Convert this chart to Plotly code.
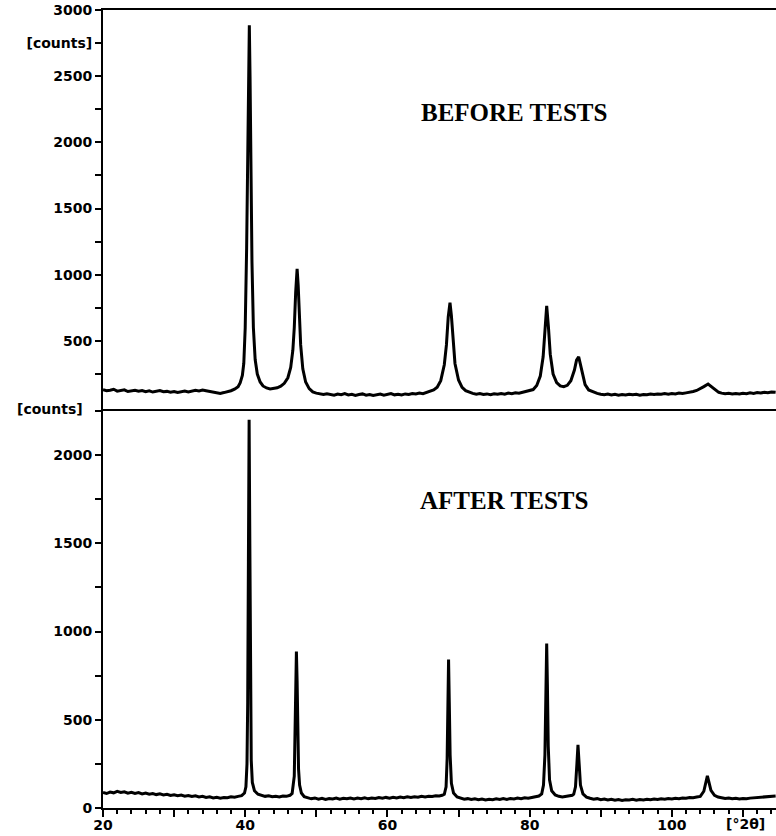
import plotly.graph_objects as go
from plotly.subplots import make_subplots

# ---------------- data ----------------
two_theta_before = [
    20, 20.5, 21, 21.5, 22, 22.5, 23, 23.5, 24, 24.5, 25, 25.5, 26, 26.5, 27, 27.5,
    28, 28.5, 29, 29.5, 30, 30.5, 31, 31.5, 32, 32.5, 33, 33.5, 34, 34.5, 35, 35.5,
    36, 36.5, 37, 37.5, 38, 38.5, 39, 39.3, 39.6, 39.8, 40.0, 40.2, 40.35, 40.5,
    40.58, 40.68, 40.8, 40.95, 41.15, 41.4, 41.7, 42.1, 42.5, 43, 43.5, 44, 44.5,
    45, 45.5, 46, 46.4, 46.7, 46.9, 47.1, 47.3, 47.45, 47.6, 47.8, 48.1, 48.5, 49,
    49.5, 50, 50.5, 51, 51.5, 52, 52.5, 53, 53.5, 54, 54.5, 55, 55.5, 56, 56.5, 57,
    57.5, 58, 58.5, 59, 59.5, 60, 60.5, 61, 61.5, 62, 62.5, 63, 63.5, 64, 64.5, 65,
    65.5, 66, 66.5, 67, 67.5, 68, 68.3, 68.55, 68.8, 69.0, 69.25, 69.5, 70, 70.5,
    71, 71.5, 72, 72.5, 73, 73.5, 74, 74.5, 75, 75.5, 76, 76.5, 77, 77.5, 78, 78.5,
    79, 79.5, 80, 80.5, 81, 81.5, 81.9, 82.15, 82.4, 82.65, 82.9, 83.3, 83.8, 84.3,
    84.8, 85.3, 85.8, 86.3, 86.6, 86.9, 87.1, 87.4, 87.8, 88.3, 89, 89.5, 90, 90.5,
    91, 91.5, 92, 92.5, 93, 93.5, 94, 94.5, 95, 95.5, 96, 96.5, 97, 97.5, 98, 98.5,
    99, 99.5, 100, 100.5, 101, 101.5, 102, 102.5, 103, 103.5, 104, 104.5, 105.1,
    105.6, 106.1, 106.6, 107, 107.5, 108, 108.5, 109, 109.5, 110, 110.5, 111, 111.5,
    112, 112.5, 113, 113.5, 114, 114.6,
]
counts_before = [
    132, 124, 128, 135, 121, 127, 131, 118, 124, 128, 120, 126, 117, 123, 114, 120,
    125, 116, 119, 113, 118, 111, 116, 121, 114, 122, 127, 123, 129, 124, 118, 112,
    108, 104, 110, 116, 124, 136, 155, 185, 240, 330, 600, 1200, 1900, 2700,
    2885, 2500, 1800, 1100, 600, 360, 250, 190, 160, 145, 138, 140, 146,
    158, 180, 222, 300, 430, 600, 870, 1045, 920, 700, 470, 290, 190, 140,
    115, 106, 100, 95, 101, 97, 91, 99, 94, 102, 92, 97, 89, 95, 100, 91,
    96, 88, 94, 99, 91, 95, 103, 93, 98, 92, 100, 96, 103, 99, 106, 102,
    110, 118, 130, 150, 200, 320, 470, 680, 790, 690, 480, 330, 205, 150,
    125, 112, 104, 98, 102, 95, 100, 94, 101, 97, 103, 98, 106, 101, 108, 105,
    112, 116, 122, 133, 163, 235, 380, 580, 765, 600, 400, 250, 185, 160,
    155, 165, 200, 280, 355, 380, 335, 245, 170, 130, 112, 104, 98, 94,
    99, 92, 97, 90, 95, 92, 98, 93, 97, 91, 96, 94, 99, 95, 100, 97,
    102, 98, 103, 100, 106, 103, 108, 112, 118, 126, 138, 155, 175,
    152, 128, 112, 106, 101, 104, 99, 103, 100, 105, 102, 108, 104,
    110, 107, 112, 109, 115, 112,
]

two_theta_after = [
    20, 20.5, 21, 21.5, 22, 22.5, 23, 23.5, 24, 24.5, 25, 25.5, 26, 26.5, 27, 27.5,
    28, 28.5, 29, 29.5, 30, 30.5, 31, 31.5, 32, 32.5, 33, 33.5, 34, 34.5, 35, 35.5,
    36, 36.5, 37, 37.5, 38, 38.5, 39, 39.5, 39.9, 40.1, 40.25, 40.35, 40.45, 40.55,
    40.65, 40.75, 40.85, 41.0, 41.3, 41.8, 42.3, 42.8, 43.3, 43.8, 44.3, 44.8, 45.3,
    45.8, 46.3, 46.6, 46.9, 47.0, 47.1, 47.2, 47.3, 47.4, 47.5, 47.65, 47.9, 48.3,
    48.8, 49.3, 49.8, 50.3, 50.8, 51.3, 51.8, 52.3, 52.8, 53.3, 53.8, 54.3, 54.8,
    55.3, 55.8, 56.3, 56.8, 57.3, 57.8, 58.3, 58.8, 59.3, 59.8, 60.3, 60.8, 61.3,
    61.8, 62.3, 62.8, 63.3, 63.8, 64.3, 64.8, 65.3, 65.8, 66.3, 66.8, 67.3, 67.7,
    68.0, 68.25, 68.4, 68.5, 68.6, 68.7, 68.82, 69.0, 69.3, 69.8, 70.3, 70.8, 71.3,
    71.8, 72.3, 72.8, 73.3, 73.8, 74.3, 74.8, 75.3, 75.8, 76.3, 76.8, 77.3, 77.8,
    78.3, 78.8, 79.3, 79.8, 80.3, 80.8, 81.3, 81.7, 81.95, 82.15, 82.3, 82.4, 82.5,
    82.62, 82.8, 83.1, 83.6, 84.1, 84.6, 85.1, 85.6, 86.0, 86.2, 86.45, 86.65, 86.8,
    86.95, 87.15, 87.5, 88, 88.5, 89, 89.5, 90, 90.5, 91, 91.5, 92, 92.5, 93, 93.5,
    94, 94.5, 95, 95.5, 96, 96.5, 97, 97.5, 98, 98.5, 99, 99.5, 100, 100.5, 101,
    101.5, 102, 102.5, 103, 103.5, 104, 104.5, 104.8, 105.0, 105.2, 105.5, 106,
    106.5, 107, 107.5, 108, 108.5, 109, 109.5, 110, 110.5, 111, 111.5, 112, 112.5,
    113, 113.5, 114, 114.6,
]
counts_after = [
    88, 82, 90, 86, 94, 88, 92, 84, 89, 83, 87, 80, 85, 78, 82, 76,
    80, 74, 78, 71, 75, 70, 73, 67, 71, 65, 69, 63, 66, 60, 63, 57,
    61, 56, 60, 58, 63, 61, 66, 70, 85, 120, 250, 600, 1400, 2200,
    1500, 620, 270, 145, 98, 78, 70, 66, 69, 64, 67, 63, 68,
    66, 72, 82, 180, 380, 680, 886, 720, 420, 220, 130, 85, 64,
    56, 52, 57, 50, 55, 49, 54, 51, 56, 50, 55, 52, 57,
    51, 56, 53, 58, 52, 57, 54, 59, 55, 60, 56, 61, 57,
    62, 58, 63, 60, 64, 61, 66, 63, 67, 65, 69, 68, 72,
    78, 120, 280, 560, 841, 600, 300, 140, 85, 62, 55, 50, 53,
    48, 52, 47, 51, 46, 50, 47, 52, 48, 53, 49, 54, 51,
    56, 53, 58, 56, 60, 63, 68, 80, 130, 300, 620, 932, 700,
    350, 160, 98, 74, 66, 63, 66, 68, 72, 78, 120, 250, 358,
    260, 130, 80, 62, 55, 50, 53, 47, 51, 45, 49, 44, 48, 43, 47,
    45, 49, 44, 48, 46, 50, 47, 51, 48, 52, 50, 54, 51, 55, 53,
    57, 55, 59, 58, 62, 66, 95, 150, 182, 150, 100, 72,
    62, 58, 54, 57, 52, 55, 51, 54, 52, 56, 58, 61, 59,
    63, 64, 67, 68,
]

panel_titles = ["BEFORE TESTS", "AFTER TESTS"]

# axis ticks
y_top_tickvals = [250, 500, 750, 1000, 1250, 1500, 1750, 2000, 2250, 2500, 2750, 3000]
y_top_ticktext = ["", "500", "", "1000", "", "1500", "", "2000", "", "2500", "[counts]", "3000"]
y_bot_tickvals = [0, 250, 500, 750, 1000, 1250, 1500, 1750, 2000, 2250]
y_bot_ticktext = ["0", "", "500", "", "1000", "", "1500", "", "2000", ""]
x_major_vals = [20, 30, 40, 50, 60, 70, 80, 90, 100, 110]
x_major_text = ["20", "", "40", "", "60", "", "80", "", "100", ""]
x_minor_vals = [v for v in range(22, 115, 2) if v % 10 != 0]
x_unit_label = "[°2θ]"
y_unit_label = "[counts]"

# ---------------- figure ----------------
fig = make_subplots(rows=2, cols=1, shared_xaxes=True, vertical_spacing=0)

line_style = dict(color="black", width=3)
fig.add_trace(go.Scatter(x=two_theta_before, y=counts_before, mode="lines",
                         line=line_style, showlegend=False), row=1, col=1)
fig.add_trace(go.Scatter(x=two_theta_after, y=counts_after, mode="lines",
                         line=line_style, showlegend=False), row=2, col=1)

tick_font = dict(family="DejaVu Sans", size=14, color="black", weight="bold")

fig.update_layout(
    width=776, height=836,
    margin=dict(l=103, r=0, t=10, b=28),
    paper_bgcolor="white", plot_bgcolor="white",
    showlegend=False,
)

fig.update_xaxes(range=[20, 114.65], showgrid=False, zeroline=False, automargin=False,
                 showline=True, linecolor="black", linewidth=2,
                 ticklabeloverflow="allow")
fig.update_xaxes(row=1, col=1, mirror=True, ticks="", showticklabels=False)
fig.update_xaxes(row=2, col=1, tickmode="array", tickvals=x_major_vals,
                 ticktext=x_major_text, ticks="outside", ticklen=7, tickwidth=1.5,
                 tickcolor="black", showticklabels=True, tickfont=tick_font,
                 ticklabelstandoff=-4,
                 minor=dict(tickmode="array", tickvals=x_minor_vals, ticks="outside",
                            ticklen=4, tickwidth=1.5, tickcolor="black"))

fig.update_yaxes(showgrid=False, zeroline=False, showline=True, linecolor="black",
                 linewidth=2, ticks="outside", ticklen=6, tickwidth=1.5, automargin=False,
                 tickcolor="black", tickfont=tick_font, tickmode="array",
                 ticklabeloverflow="allow")
fig.update_yaxes(row=1, col=1, range=[-14, 3000], tickvals=y_top_tickvals,
                 ticktext=y_top_ticktext)
fig.update_yaxes(row=2, col=1, range=[0, 2261], tickvals=y_bot_tickvals,
                 ticktext=y_bot_ticktext)

title_font = dict(family="Liberation Serif", size=25, color="black", weight="bold")
fig.add_annotation(xref="x", yref="y", x=77.8, y=2225, text=panel_titles[0],
                   showarrow=False, font=title_font)
fig.add_annotation(xref="x2", yref="y2", x=76.4, y=1740, text=panel_titles[1],
                   showarrow=False, font=title_font)

# unit labels
fig.add_annotation(xref="x2", yref="paper", x=110.3, y=0, yanchor="middle", yshift=-16,
                   text=x_unit_label, showarrow=False, font=tick_font)
fig.add_annotation(xref="paper", yref="y2", x=0, xshift=-53, xanchor="center",
                   y=2261, text=y_unit_label, showarrow=False, font=tick_font)

fig.write_html(
    "out.html",
    config={"displayModeBar": False},
    post_script="document.body.style.margin='0px';document.body.style.overflow='hidden';",
)
